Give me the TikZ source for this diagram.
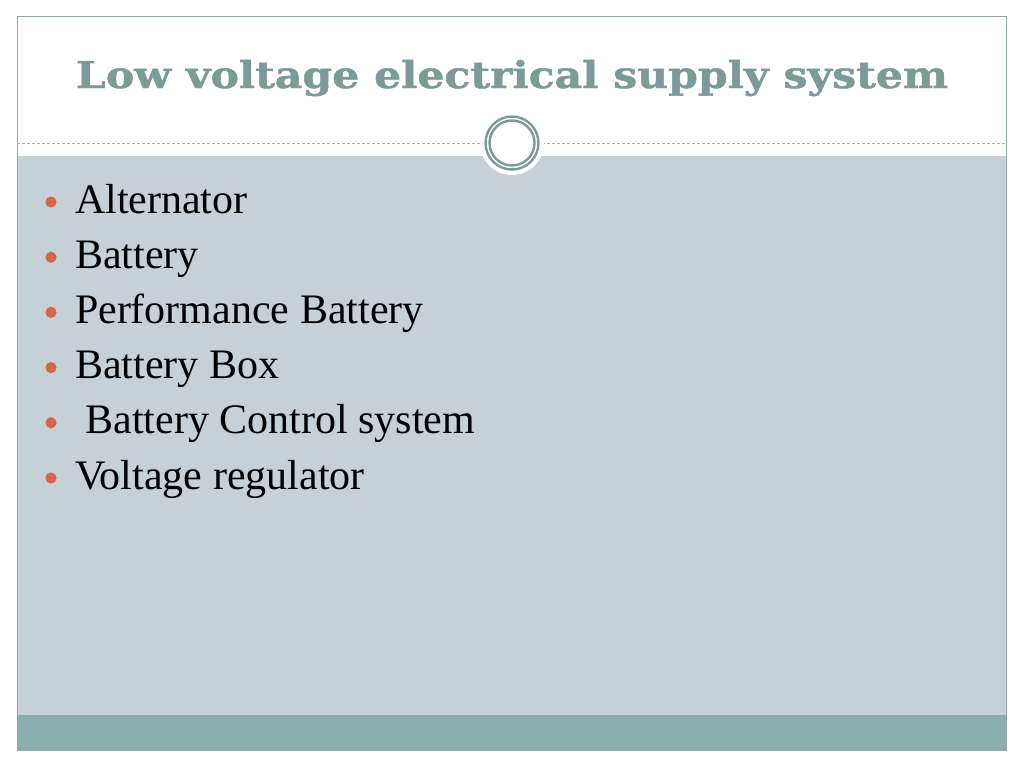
\documentclass[tikz,border=0pt]{standalone}
\usepackage{fontspec}
\setmainfont{Liberation Serif}
\newfontfamily\titlefont{DejaVu Serif}[FakeBold=1.2]
\usetikzlibrary{positioning}

\definecolor{titleteal}{HTML}{7B9A9A}
\definecolor{panelblue}{HTML}{C5D1D7}
\definecolor{bandteal}{HTML}{8AADAD}
\definecolor{framegray}{HTML}{93A9A9}
\definecolor{dashgray}{HTML}{A3B3B3}
\definecolor{bulletred}{HTML}{D5654A}

\begin{document}
\begin{tikzpicture}[x=1pt,y=-1pt,               % one unit = one pixel, y down
                    every node/.style={inner sep=0pt,outer sep=0pt},
                    itemtext/.style={anchor=base west,font=\fontsize{42}{50}\selectfont},
                    bulletdot/.style={fill=bulletred}]

\useasboundingbox (0,0) rectangle (1024,768);

% ---------------------------------------------------------------
% Key points
\coordinate (NW)  at (17,17);        % frame corner
\coordinate (SE)  at (1006,750);     % frame corner
\coordinate (C)   at (512,143);      % ring centre

% ---------------------------------------------------------------
% Slide background
\fill[white] (0,0) rectangle (1024,768);
\fill[panelblue] (17,156) rectangle (1006,715);
\fill[bandteal]  (17,715) rectangle (1006,750);
\draw[framegray,line width=1pt] (NW) rectangle (SE);

% Dashed divider and ring
\draw[dashgray,line width=1pt,dash pattern=on 3pt off 2pt] (17,143) -- (1006,143);
\fill[white] (C) circle (32pt);
\draw[titleteal,line width=2.4pt] (C) circle (26.5pt);
\draw[titleteal,line width=2.4pt] (C) circle (22.5pt);

% Title
\node[anchor=base,text=titleteal] (title) at (512,88)
      {\resizebox{872pt}{\height}{\titlefont\bfseries\fontsize{37}{42}\selectfont Low voltage electrical supply system}};

% Bullet list
\foreach \txt [count=\i] in {Alternator, Battery, Performance Battery, Battery Box,
                             {\ Battery Control system}, Voltage regulator}{
  \pgfmathsetmacro{\yy}{213+55.2*(\i-1)}
  \node[itemtext] (item\i) at (75,\yy) {\txt};
  \fill[bulletdot] (51,\yy-11) circle (5.6pt);
}

\end{tikzpicture}
\end{document}
